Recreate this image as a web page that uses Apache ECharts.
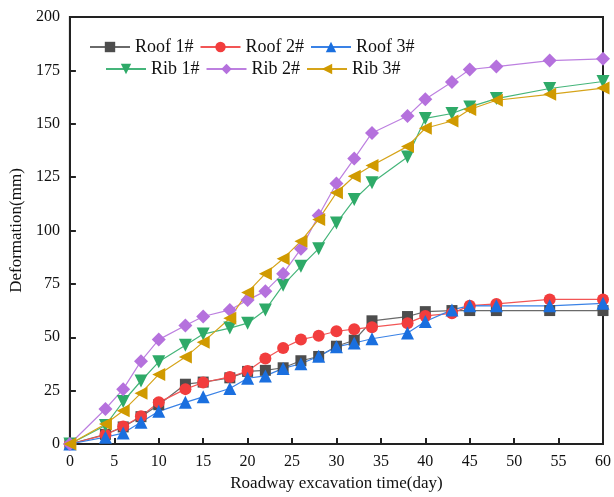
<!DOCTYPE html>
<html>
<head>
<meta charset="utf-8">
<script src="https://cdn.jsdelivr.net/npm/echarts@6/dist/echarts.min.js"></script>
<style>
  html, body { margin: 0; padding: 0; background: #fff; }
  #chart { width: 614px; height: 497px; }
</style>
</head>
<body>
<div id="chart"></div>
<script>
// Excavation time (days) at each survey
const days = [0, 4, 6, 8, 10, 13, 15, 18, 20, 22, 24, 26, 28, 30, 32, 34, 38, 40, 43, 45, 48, 54, 60];

// Measured deformation (mm) per monitoring point
const roof1 = [0, 4.5, 8, 12.8, 18.4, 28, 29, 31, 34, 34.5, 35.7, 39, 41, 45.8, 48.6, 57.7, 59.7, 62, 62.5, 62.5, 62.5, 62.5, 62.5];
const roof2 = [0, 4.3, 8.2, 13, 19.5, 25.7, 28.8, 31.4, 34.2, 40, 45, 48.9, 50.7, 52.8, 53.8, 54.7, 56.6, 60, 61.2, 64.8, 65.6, 67.7, 67.7];
const roof3 = [0, 3.2, 5.1, 10.2, 15.3, 19.5, 22.1, 26, 30.8, 31.9, 35.4, 37.6, 41.1, 45.5, 47.3, 49.3, 52, 57.4, 62.8, 64.8, 64.7, 64.7, 65.9];
const rib1 = [0, 8.7, 19.9, 29.5, 38.5, 46.3, 51.5, 54.3, 56.6, 62.8, 74.4, 83.2, 91.5, 103.5, 114.5, 122.4, 134.4, 152.5, 154.8, 157.9, 161.8, 166.5, 169.8];
const rib2 = [0, 16.4, 25.7, 38.8, 48.9, 55.5, 59.7, 62.8, 67.4, 71.6, 79.8, 91.4, 107, 122, 133.7, 145.7, 153.6, 161.5, 169.5, 175.4, 176.8, 179.6, 180.4];
const rib3 = [0, 9.4, 15.6, 23.8, 32.6, 40.7, 47.7, 58.9, 71, 79.8, 86.8, 95, 105.2, 117.7, 125.4, 130.4, 139.4, 147.9, 151.3, 156.7, 161, 163.8, 166.7];

const seriesDefs = [
  { name: 'Roof 1#', data: roof1, color: '#4d4d4d', line: '#6a6a6a', symbol: 'rect', size: 11 },
  { name: 'Roof 2#', data: roof2, color: '#f23d3d', line: '#f25555', symbol: 'circle', size: 12 },
  { name: 'Roof 3#', data: roof3, color: '#1a6fdf', line: '#3a82e6', symbol: 'triangle', size: 13, rotate: 0 },
  { name: 'Rib 1#', data: rib1, color: '#2eaa68', line: '#45b57a', symbol: 'triangle', size: 13, rotate: 180 },
  { name: 'Rib 2#', data: rib2, color: '#b571dd', line: '#bd80e0', symbol: 'diamond', size: 14 },
  { name: 'Rib 3#', data: rib3, color: '#d09a00', line: '#d6a41a', symbol: 'triangle', size: 13, rotate: 90 }
];

const font = 'Liberation Serif, Times New Roman, serif';

const chart = echarts.init(document.getElementById('chart'), null, { renderer: 'canvas' });

const series = seriesDefs.map(s => ({
  name: s.name,
  type: 'line',
  data: days.map((d, i) => [d, s.data[i]]),
  symbol: s.symbol,
  symbolSize: s.size,
  symbolRotate: s.rotate || 0,
  itemStyle: { color: s.color },
  lineStyle: { color: s.line, width: 1.2 },
  emphasis: { disabled: true },
  animation: false
}));

const legendCommon = {
  itemWidth: 40,
  itemHeight: 13,
  itemGap: 6,
  textStyle: { fontFamily: font, fontSize: 18, color: '#111' },
  selectedMode: false
};

chart.setOption({
  backgroundColor: '#fff',
  animation: false,
  grid: {
    left: 69, right: 9, top: 17, bottom: 50,
    show: true, borderColor: '#222', borderWidth: 2, backgroundColor: 'transparent'
  },
  legend: [
    Object.assign({}, legendCommon, { data: ['Roof 1#', 'Roof 2#', 'Roof 3#'], left: 84, top: 33 }),
    Object.assign({}, legendCommon, { data: ['Rib 1#', 'Rib 2#', 'Rib 3#'], left: 100, top: 55 })
  ],
  xAxis: {
    type: 'value',
    min: 0, max: 60, interval: 5,
    name: 'Roadway excavation time(day)',
    nameLocation: 'middle',
    nameGap: 31,
    nameTextStyle: { fontFamily: font, fontSize: 17, color: '#111' },
    axisLine: { show: true, lineStyle: { color: '#222', width: 2 } },
    axisTick: { show: true, inside: true, length: 6, lineStyle: { color: '#222', width: 2 } },
    axisLabel: { fontFamily: font, fontSize: 16, color: '#111', margin: 10 },
    splitLine: { show: false }
  },
  yAxis: {
    type: 'value',
    min: 0, max: 200, interval: 25,
    name: 'Deformation(mm)',
    nameLocation: 'middle',
    nameGap: 39,
    nameTextStyle: { fontFamily: font, fontSize: 17, color: '#111' },
    axisLine: { show: true, lineStyle: { color: '#222', width: 2 } },
    axisTick: { show: true, inside: true, length: 6, lineStyle: { color: '#222', width: 2 } },
    axisLabel: { fontFamily: font, fontSize: 16, color: '#111', margin: 10 },
    splitLine: { show: false }
  },
  series: series
});
</script>
</body>
</html>
